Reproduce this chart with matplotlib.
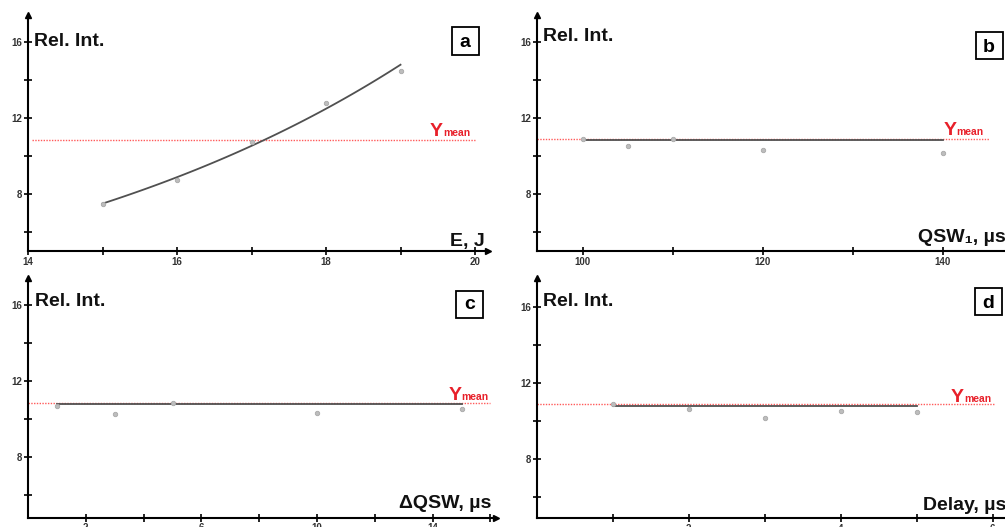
import matplotlib
matplotlib.use("Agg")
import matplotlib.pyplot as plt
import numpy as np
from matplotlib.patches import Rectangle

plt.rcParams['font.family'] = ['Liberation Sans', 'DejaVu Sans']

# panel a: laser energy
energy = [15, 16, 17, 18, 19]
energy_int = [7.47, 8.74, 10.75, 12.77, 14.47]
# panel b: QSW1
qsw1 = [100, 105, 110, 120, 140]
qsw1_int = [10.88, 10.55, 10.90, 10.33, 10.15]
# panel c: delta QSW
dqsw = [1, 3, 5, 10, 15]
dqsw_int = [10.70, 10.28, 10.84, 10.31, 10.53]
# panel d: delay
delay = [1, 2, 3, 4, 5]
delay_int = [10.89, 10.63, 10.17, 10.53, 10.51]

# flat fit levels for b, c, d and the mean line per panel
flat_fit = {'b': 10.84, 'c': 10.79, 'd': 10.82}
y_mean = {'a': 10.86, 'b': 10.91, 'c': 10.87, 'd': 10.89}

W, H = 1005, 527
fig = plt.figure(figsize=(W / 100, H / 100), dpi=100)


def add_axes_px(left, bottom, xlim, ylim, px_x, px_y):
    """axes placed by pixel position of its origin and pixels per unit"""
    width = (xlim[1] - xlim[0]) * px_x
    height = (ylim[1] - ylim[0]) * px_y
    ax = fig.add_axes([left / W, (H - bottom) / H, width / W, height / H])
    ax.set_xlim(*xlim)
    ax.set_ylim(*ylim)
    ax.patch.set_visible(False)
    for s in ['top', 'right']:
        ax.spines[s].set_visible(False)
    for s in ['left', 'bottom']:
        ax.spines[s].set_linewidth(1.5)
    # arrow heads
    ax.plot(1, 0, '>k', ms=5, transform=ax.transAxes, clip_on=False)
    ax.plot(0, 1, '^k', ms=5, transform=ax.transAxes, clip_on=False)
    return ax


def style_ticks(ax, xmajor, xminor, xlabels):
    ax.set_xticks(xmajor)
    ax.set_xticklabels(xlabels)
    ax.set_xticks(xminor, minor=True)
    ax.set_yticks([8, 12, 16])
    ax.set_yticks([6, 10, 14], minor=True)
    ax.tick_params(which='both', direction='inout', length=6, width=1.2,
                   labelsize=7, labelcolor='#333333', pad=1)
    for lbl in ax.get_xticklabels() + ax.get_yticklabels():
        lbl.set_fontweight('bold')


def mean_line(ax, key, x0, x1, xj, yb):
    ax.plot([x0, x1], [y_mean[key]] * 2, color='#ff5a5a', lw=1,
            ls=(0, (1, 1)), zorder=1)
    ax.text(xj, yb, 'Y', color='#e8202a', fontsize=14, fontweight='bold',
            ha='right', va='baseline')
    ax.text(xj, yb, 'mean', color='#e8202a', fontsize=7.5, fontweight='bold',
            ha='left', va='baseline')


def fig_text(x, y, s, size=14, ha='left'):
    fig.text(x / W, 1 - y / H, s, fontsize=size, fontweight='bold',
             ha=ha, va='baseline', color='#111111')


def panel_box(cx, cy, base, letter, size=27):
    fig.add_artist(Rectangle(((cx - size / 2) / W, 1 - (cy + size / 2) / H),
                             size / W, size / H, transform=fig.transFigure,
                             fill=False, lw=1.3, ec='black'))
    fig.text(cx / W, 1 - base / H, letter, fontsize=14, fontweight='bold',
             ha='center', va='baseline')


pt_style = dict(ls='none', marker='o', ms=3.2, mfc='#bdbdbd', mec='#a8a8a8',
                mew=0.6, zorder=3)
fit_style = dict(color='#505050', lw=1.3, zorder=2)

# ---- a ----
ax = add_axes_px(28, 251, (14, 20.17), (5, 17.4), 74.5, 19)
style_ticks(ax, [14, 16, 18, 20], [15, 17, 19], ['14', '16', '18', '20'])
coef = np.polyfit(energy, np.log(energy_int), 1)
xf = np.linspace(energy[0], energy[-1], 100)
ax.plot(xf, np.exp(np.polyval(coef, xf)), **fit_style)
ax.plot(energy, energy_int, **pt_style)
mean_line(ax, 'a', 14.05, 20, 19.57, 11.07)
fig_text(34, 46, 'Rel. Int.')
fig_text(485, 246, 'E, J', ha='right')
panel_box(465, 41, 46.7, 'a')

# ---- b ----
ax = add_axes_px(537, 251, (94.9, 148.5), (5, 17.4), 9, 19)
style_ticks(ax, [100, 120, 140], [110, 130], ['100', '120', '140'])
ax.plot([qsw1[0], qsw1[-1]], [flat_fit['b']] * 2, **fit_style)
ax.plot(qsw1, qsw1_int, **pt_style)
mean_line(ax, 'b', 94.9, 145.1, 141.5, 11.08)
fig_text(542.7, 40.7, 'Rel. Int.')
fig_text(918, 242, 'QSW\u2081, \u00b5s')
panel_box(989, 45.7, 51.7, 'b')

# ---- c ----
ax = add_axes_px(28, 517.7, (0, 16.2), (4.82, 17.44), 28.9, 19)
style_ticks(ax, [2, 6, 10, 14], [4, 8, 12, 16], ['2', '6', '10', '14'])
ax.plot([dqsw[0], dqsw[-1]], [flat_fit['c']] * 2, **fit_style)
ax.plot(dqsw, dqsw_int, **pt_style)
mean_line(ax, 'c', 0, 16, 15.0, 11.02)
fig_text(35, 306, 'Rel. Int.')
fig_text(491.7, 508.3, '\u0394QSW, \u00b5s', ha='right')
panel_box(469.7, 304.5, 309, 'c')

# ---- d ----
ax = add_axes_px(536.7, 518.3, (0, 6.4), (4.9, 17.54), 76, 19)
style_ticks(ax, [2, 4, 6], [1, 3, 5], ['2', '4', '6'])
ax.plot([delay[0], delay[-1]], [flat_fit['d']] * 2, **fit_style)
ax.plot(delay, delay_int, **pt_style)
mean_line(ax, 'd', 0, 6.02, 5.62, 11.03)
fig_text(542.7, 306, 'Rel. Int.')
fig_text(923.3, 510, 'Delay, \u00b5s')
panel_box(988.3, 301, 307.7, 'd')

fig.savefig('out.png', dpi=100)
